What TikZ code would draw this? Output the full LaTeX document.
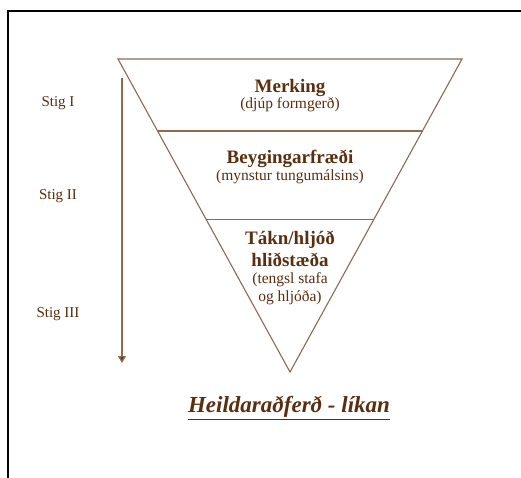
\documentclass[tikz,border=0pt]{standalone}
\usepackage{fontspec}
\setmainfont{Liberation Serif}
\usetikzlibrary{arrows.meta,calc}
\definecolor{txtbrown}{HTML}{5A2E0E}
\definecolor{linebrown}{HTML}{8C6B50}
\tikzset{
  lbl/.style={text=txtbrown, inner sep=0pt, font=\fontsize{15}{17}\selectfont},
  head/.style={text=txtbrown, inner sep=0pt, font=\fontsize{19}{21}\selectfont\bfseries},
  sub/.style={text=txtbrown, inner sep=0pt, font=\fontsize{15.5}{17}\selectfont},
  tri/.style={draw=linebrown, line width=1.1pt},
}
\begin{document}
\begin{tikzpicture}[x=1pt,y=-1pt]
\useasboundingbox (0,0) rectangle (521,478);
\fill[white] (0,0) rectangle (521,478);
\draw[black, line width=1.3pt] (521,11) -- (8,11) -- (8,478);
% triangle
\coordinate (tl) at (118,59);
\coordinate (tr) at (462,59);
\coordinate (ap) at (290,372);
\draw[tri] (tl) -- (tr) -- (ap) -- cycle;
\coordinate (l1a) at ($(tl)!0.23!(ap)$);
\coordinate (l1b) at ($(tr)!0.23!(ap)$);
\coordinate (l2a) at ($(tl)!0.514!(ap)$);
\coordinate (l2b) at ($(tr)!0.514!(ap)$);
\draw[tri] (l1a) -- (l1b);
\draw[tri] (l2a) -- (l2b);
% arrow
\coordinate (as) at (122,78);
\coordinate (ae) at (122,363);
\draw[draw=linebrown, line width=1.4pt, -{Triangle[length=7pt,width=8pt,fill=txtbrown]}] (as) -- (ae);
% labels
\node[lbl] (s1) at (58,103) {Stig I};
\node[lbl] (s2) at (58,196) {Stig II};
\node[lbl] (s3) at (58,314) {Stig III};
\node[head] (m) at (290,88) {Merking};
\node[sub] (md) at (290,105) {(djúp formgerð)};
\node[head] (b) at (290,159) {Beygingarfræði};
\node[sub] (bd) at (290,177) {(mynstur tungumálsins)};
\node[head] (t1) at (290,240) {Tákn/hljóð};
\node[head] (t2) at (290,260) {hliðstæða};
\node[sub] (t3) at (290,280) {(tengsl stafa};
\node[sub] (t4) at (290,298) {og hljóða)};
\node[text=txtbrown, inner sep=0pt, font=\fontsize{23}{25}\selectfont\bfseries\itshape] (ttl) at (289,408) {\underline{Heildaraðferð - líkan}};
\end{tikzpicture}
\end{document}
